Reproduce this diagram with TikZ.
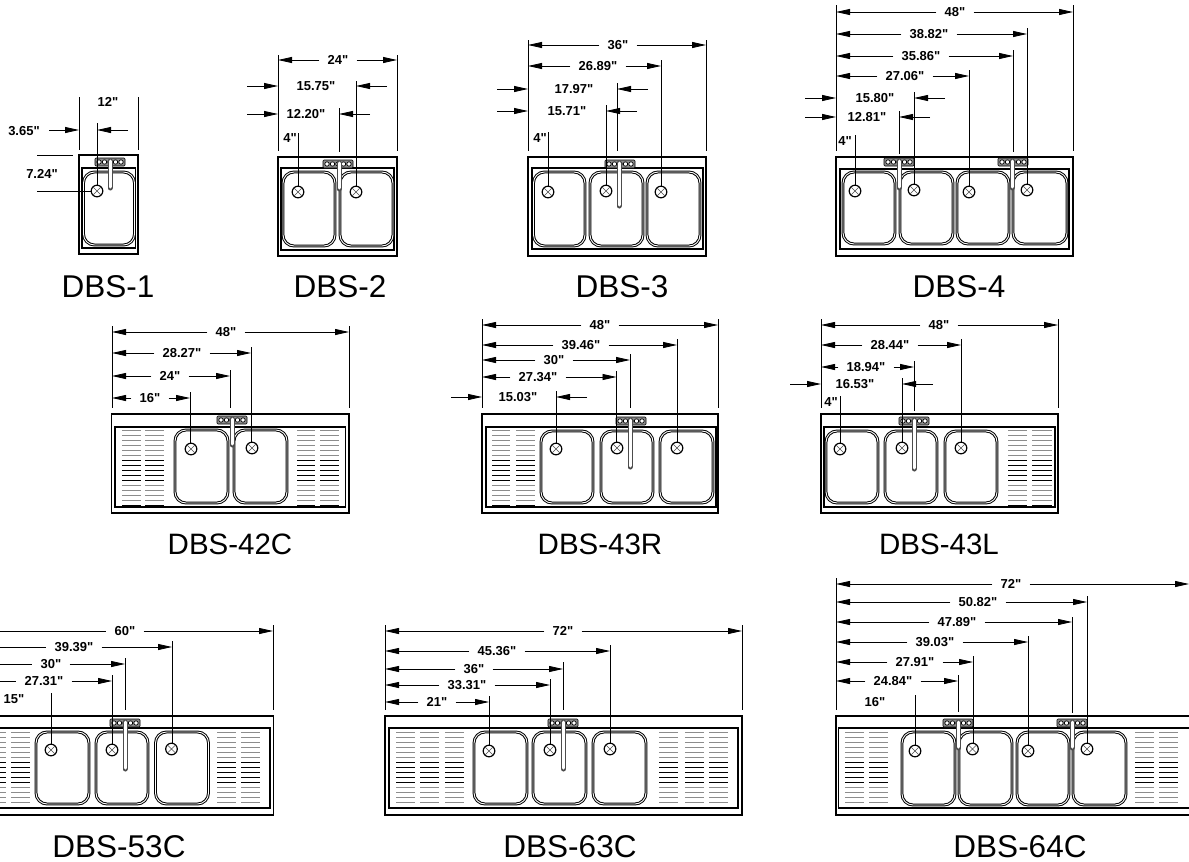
\documentclass[tikz,border=0pt]{standalone}
\usepackage{fontspec}
\setmainfont{Liberation Sans}
\newfontfamily\lsans{Liberation Sans}
\usetikzlibrary{arrows.meta}
\tikzset{
  deck/.style={draw=black,line width=1.1pt},
  well/.style={draw=black,line width=1.6pt},
  tub/.style={draw=black,line width=1pt,double=white,double distance=0.9pt,rounded corners=11pt},
  plug/.style={draw=black,line width=1.2pt,fill=white},
  plugx/.style={draw=black!70,line width=0.4pt},
  ext/.style={draw=black,line width=0.8pt},
  dimline/.style={draw=black,line width=0.8pt,-{Stealth[length=14pt,width=6pt,inset=0pt]}},
  dimtxt/.style={font=\lsans\fontsize{13}{13}\selectfont\bfseries,inner xsep=8pt,inner ysep=0pt,fill=none},
  title/.style={font=\lsans\fontsize{29.5}{30}\selectfont,inner sep=0pt},
  bigtitle/.style={font=\lsans\fontsize{31.5}{32}\selectfont,inner sep=0pt},
  plate/.style={draw=black,fill=black!45,line width=0.6pt,rounded corners=1pt},
  knob/.style={draw=black,fill=white,line width=0.7pt}
}
\newcount\dnum
\newcommand{\hdim}[5]{\global\advance\dnum by 1
  \node[dimtxt] (d\the\dnum) at (#4,#1) {#5};
  \draw[dimline] (d\the\dnum.west) -- (#2,#1);
  \draw[dimline] (d\the\dnum.east) -- (#3,#1);}
\newcommand{\idim}[5]{\global\advance\dnum by 1
  \node[dimtxt] (d\the\dnum) at (#4,#1) {#5};
  \draw[dimline] (#2-31,#1) -- (#2,#1);
  \draw[dimline] (#3+31,#1) -- (#3,#1);}
\newcommand{\tdim}[3]{\global\advance\dnum by 1
  \node[dimtxt] (d\the\dnum) at (#1,#2) {#3};}
\newcommand{\vl}[3]{\draw[ext] (#1,#2) -- (#1,#3);}
\newcommand{\tub}[4]{\draw[tub] (#1,#3) rectangle (#2,#4);}
\newcommand{\plug}[2]{\draw[plug] (#1,#2) circle (5.8pt);
  \draw[plugx] (#1-3.9,#2-3.9) -- (#1+3.9,#2+3.9) (#1-3.9,#2+3.9) -- (#1+3.9,#2-3.9);}
\newcommand{\faucet}[4]{
  \draw[plate] (#1,#2) rectangle (#1+30,#2+8);
  \foreach \k in {4,9.5,15,20.5,26}{\draw[knob] (#1+\k,#2+4) circle (2.2pt);}
  \draw[line width=5pt,black!70,line cap=round] (#3,#2+3) -- (#3,#4-2);
  \draw[line width=3pt,white,line cap=round] (#3,#2+3) -- (#3,#4-3);}
\newcommand{\slots}[3]{
  \foreach \i in {0,...,15}{
    \pgfmathsetmacro{\sc}{(\i<6 || (\i>10 && \i<15)) ? 45 : 100}
    \draw[line width=0.8pt,black!\sc] (#1,#3+5*\i) -- (#2,#3+5*\i);}}
\begin{document}
\begin{tikzpicture}[x=1pt,y=-1pt]
\useasboundingbox (0,0) rectangle (1189,862);
\clip (0,0) rectangle (1189,862);
\fill[white] (0,0) rectangle (1189,862);

% ---------- DBS-1
\draw[deck] (79,155) rectangle (138,254);
\draw[well] (82,168) rectangle (135.5,248);
\tub{83.5}{134.5}{172}{245}
\faucet{95}{158}{110}{190}
\plug{97}{191}
\vl{79}{97}{150} \vl{138}{97}{150} \vl{97}{123}{186}
\draw[ext] (37,155) -- (73,155);
\draw[ext] (37,191) -- (91,191);
\tdim{108}{102}{12"}
\tdim{24}{131}{3.65"}
\draw[dimline] (49,130) -- (79,130);
\draw[dimline] (128,130) -- (97,130);
\tdim{42}{174}{7.24"}
\node[bigtitle] (t1) at (108,287) {DBS-1};

% ---------- DBS-2
\draw[deck] (278,157) rectangle (397,256);
\draw[well] (281,168) rectangle (394,250);
\tub{283}{335}{172}{246} \tub{340}{393}{172}{246}
\faucet{323}{160}{339}{191}
\plug{298}{192} \plug{356}{192}
\vl{278}{55}{151} \vl{397}{55}{151}
\vl{356}{81}{187} \vl{339}{108}{152} \vl{298}{133}{187}
\hdim{60}{278}{397}{338}{24"}
\idim{86}{278}{356}{316}{15.75"}
\idim{114}{278}{339}{306}{12.20"}
\tdim{290}{138}{4"}
\node[bigtitle] (t2) at (340,287) {DBS-2};

% ---------- DBS-3
\draw[deck] (528,157) rectangle (706,256);
\draw[well] (532,168) rectangle (703,249);
\tub{533.5}{585}{172}{246} \tub{590}{643}{172}{246} \tub{647}{700}{172}{246}
\faucet{605}{160}{619}{208}
\plug{548}{192} \plug{606}{191} \plug{661}{192}
\vl{528}{40}{151} \vl{706}{40}{151} \vl{617}{83}{151}
\vl{661}{60}{187} \vl{606}{105}{186} \vl{548}{132}{187}
\hdim{45}{528}{706}{618}{36"}
\hdim{66}{528}{661}{598}{26.89"}
\idim{89}{528}{617}{574}{17.97"}
\idim{111}{528}{606}{567}{15.71"}
\tdim{540}{138}{4"}
\node[bigtitle] (t3) at (622,287) {DBS-3};

% ---------- DBS-4
\draw[deck] (836,157) rectangle (1073,256);
\draw[well] (840,169) rectangle (1069,249);
\tub{843}{895}{172}{244} \tub{900}{953}{172}{244} \tub{957}{1009}{172}{244} \tub{1013}{1067}{172}{244}
\faucet{884}{158}{899}{190}
\faucet{998}{158}{1012}{190}
\plug{855}{191} \plug{914}{190} \plug{969}{192} \plug{1027}{190}
\vl{836}{5}{151} \vl{1073}{5}{151}
\vl{1027}{28}{185} \vl{1013}{50}{152} \vl{969}{70}{187} \vl{914}{92}{185} \vl{899}{111}{154} \vl{855}{135}{186}
\hdim{12}{836}{1073}{955}{48"}
\hdim{34}{836}{1027}{929}{38.82"}
\hdim{56}{836}{1013}{921}{35.86"}
\hdim{76}{836}{969}{905}{27.06"}
\idim{98}{836}{914}{875}{15.80"}
\idim{117}{836}{899}{867}{12.81"}
\tdim{845}{141}{4"}
\node[bigtitle] (t4) at (959,287) {DBS-4};

% ---------- DBS-42C
\draw[deck] (111.5,414) rectangle (349,513);
\draw[well] (115,427) rectangle (345.5,507);
\slots{122}{141}{430} \slots{145}{164}{430}
\slots{297}{315}{430} \slots{320}{339}{430}
\tub{175}{228}{430}{503} \tub{234}{287}{430}{503}
\faucet{217}{416}{232}{447}
\plug{191}{449} \plug{252}{448}
\vl{112}{326}{408} \vl{349}{326}{408} \vl{230}{370}{408}
\vl{251}{347}{443} \vl{190}{392}{444}
\hdim{332}{112}{349}{226}{48"}
\hdim{353}{112}{251}{182}{28.27"}
\hdim{376}{112}{230}{170}{24"}
\hdim{398}{112}{190}{150}{16"}
\node[title] (t5) at (230,544) {DBS-42C};

% ---------- DBS-43R
\draw[deck] (482,414) rectangle (718,513);
\draw[well] (486,427) rectangle (716,507);
\slots{492}{510}{430} \slots{516}{535}{430}
\tub{541}{593}{431}{503} \tub{601}{653}{431}{503} \tub{660}{713}{431}{503}
\faucet{616}{417}{630}{469}
\plug{556}{449} \plug{617}{448} \plug{677}{448}
\vl{482}{319}{408} \vl{718}{319}{408} \vl{630}{354}{408}
\vl{677}{339}{443} \vl{616.5}{371}{443} \vl{556}{391}{444}
\hdim{325}{482}{718}{600}{48"}
\hdim{345}{482}{677}{581}{39.46"}
\hdim{360}{482}{630}{554}{30"}
\hdim{377}{482}{616.5}{538}{27.34"}
\idim{397}{482}{556}{518}{15.03"}
\node[title] (t6) at (600,544) {DBS-43R};

% ---------- DBS-43L
\draw[deck] (821,414) rectangle (1058,513);
\draw[well] (824,427) rectangle (1055,507);
\slots{1008}{1027}{430} \slots{1032}{1052}{430}
\tub{826}{878}{431}{503} \tub{885}{937}{431}{503} \tub{945}{997}{431}{503}
\faucet{899}{417}{914}{471}
\plug{840}{449} \plug{902}{448} \plug{961}{448}
\vl{821}{319}{408} \vl{1058}{319}{408} \vl{914}{361}{411}
\vl{961}{339}{443} \vl{902}{378}{443} \vl{840}{396}{444}
\hdim{325}{821}{1058}{939}{48"}
\hdim{345}{821}{961}{890}{28.44"}
\hdim{367}{821}{914}{866}{18.94"}
\idim{384}{821}{902}{855}{16.53"}
\tdim{831}{402}{4"}
\node[title] (t7) at (939,544) {DBS-43L};

% ---------- DBS-53C
\draw[deck] (0,716) -- (273.5,716) -- (273.5,815) -- (0,815);
\draw[well] (0,728) -- (270,728) -- (270,808) -- (0,808);
\slots{0}{6}{732} \slots{11}{30}{732}
\slots{217}{236}{732} \slots{241}{260}{732}
\tub{36}{89}{732}{804} \tub{96}{148}{732}{804} \tub{155.5}{208.5}{732}{804}
\faucet{110}{719}{125}{771}
\plug{51}{750} \plug{112}{750} \plug{171.5}{749}
\vl{273}{625}{710} \vl{125}{658}{710}
\vl{172}{641}{744} \vl{112}{675}{745} \vl{51}{693}{745}
\tdim{125}{631}{60"}
\draw[ext] (0,631) -- (d\the\dnum.west);
\draw[dimline] (d\the\dnum.east) -- (273,631);
\tdim{74}{647}{39.39"}
\draw[ext] (0,647) -- (d\the\dnum.west);
\draw[dimline] (d\the\dnum.east) -- (172,647);
\tdim{51}{664}{30"}
\draw[ext] (0,664) -- (d\the\dnum.west);
\draw[dimline] (d\the\dnum.east) -- (125,664);
\tdim{44}{681}{27.31"}
\draw[ext] (0,681) -- (d\the\dnum.west);
\draw[dimline] (d\the\dnum.east) -- (112,681);
\tdim{14}{699}{15"}
\node[bigtitle] (t8) at (119,847) {DBS-53C};

% ---------- DBS-63C
\draw[deck] (385,716) rectangle (742,815);
\draw[well] (389,728) rectangle (738,808);
\slots{396}{415}{732} \slots{420}{439}{732} \slots{445}{464}{732}
\slots{659}{678}{732} \slots{685}{704}{732} \slots{709}{728}{732}
\tub{474}{527}{732}{804} \tub{533}{586}{732}{804} \tub{593}{646}{732}{804}
\faucet{548}{719}{563.5}{771}
\plug{489}{751} \plug{550}{750} \plug{610}{749}
\vl{385}{625}{710} \vl{742}{625}{710} \vl{563}{662}{710}
\vl{610}{645}{744} \vl{550}{679}{745} \vl{489}{696}{746}
\hdim{631}{385}{742}{563}{72"}
\hdim{651}{385}{610}{497}{45.36"}
\hdim{669}{385}{563}{474}{36"}
\hdim{685}{385}{550}{467}{33.31"}
\hdim{702}{385}{489}{437}{21"}
\node[bigtitle] (t9) at (570,847) {DBS-63C};

% ---------- DBS-64C
\draw[deck] (1189,716) -- (836,716) -- (836,815) -- (1189,815);
\draw[well] (1189,728) -- (838.5,728) -- (838.5,808) -- (1189,808);
\slots{845}{864}{732} \slots{869}{888}{732}
\slots{1135}{1154}{732} \slots{1159}{1178}{732}
\tub{902}{955}{732}{805} \tub{959}{1012}{732}{805} \tub{1017}{1069}{732}{805} \tub{1073}{1126}{732}{805}
\faucet{943}{719}{958.5}{750}
\faucet{1057}{719}{1072}{750}
\plug{915}{751} \plug{972.5}{749} \plug{1028}{751} \plug{1087}{749}
\vl{836}{578}{710} \vl{1072}{617}{713} \vl{958}{675}{712}
\vl{1087}{596}{744} \vl{1028}{636}{746} \vl{973}{656}{744} \vl{915}{695}{746}
\hdim{584}{836}{1189}{1011}{72"}
\hdim{602}{836}{1087}{978}{50.82"}
\hdim{622}{836}{1072}{957}{47.89"}
\hdim{642}{836}{1028}{935}{39.03"}
\hdim{662}{836}{973}{915}{27.91"}
\hdim{681}{836}{958}{893}{24.84"}
\tdim{875}{702}{16"}
\node[bigtitle] (t10) at (1020,847) {DBS-64C};
\end{tikzpicture}
\end{document}
